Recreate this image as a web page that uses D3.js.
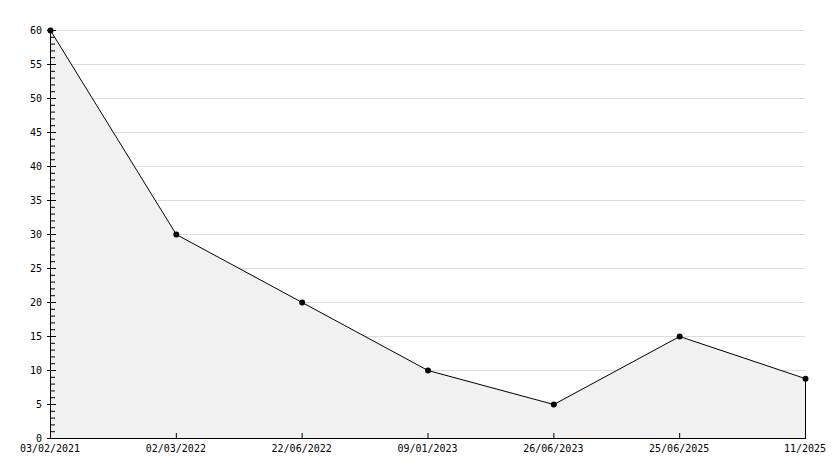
<!DOCTYPE html>
<html>
<head>
<meta charset="utf-8">
<script src="https://cdn.jsdelivr.net/npm/d3@7"></script>
<style>
  body { margin: 0; background: #fff; }
  text { font-family: "DejaVu Sans Mono", monospace; font-size: 10px; fill: #000; }
</style>
</head>
<body>
<div id="chart"></div>
<script>
// chart data
var dates = ["03/02/2021", "02/03/2022", "22/06/2022", "09/01/2023", "26/06/2023", "25/06/2025", "11/2025"];
var values = [60, 30, 20, 10, 5, 15, 8.8];
var yTicks = [0, 5, 10, 15, 20, 25, 30, 35, 40, 45, 50, 55, 60];

var width = 834,
    height = 468;

var svg = d3.select("#chart").append("svg")
    .attr("width", width)
    .attr("height", height);

var x = d3.scalePoint().domain(dates).range([50, 805]);
var y = d3.scaleLinear().domain([0, 60]).range([438, 30]);

// grid lines
svg.append("g")
    .selectAll("line")
    .data(yTicks.filter(function(d) { return d > 0; }))
    .enter().append("line")
    .attr("x1", 50).attr("x2", 805)
    .attr("y1", function(d) { return y(d) + 0.5; })
    .attr("y2", function(d) { return y(d) + 0.5; })
    .attr("stroke", "#dcdcdc");

// area
var pts = dates.map(function(d, i) { return [d, values[i]]; });

svg.append("path")
    .datum(pts)
    .attr("fill", "#f1f1f1")
    .attr("d", d3.area()
        .x(function(d) { return x(d[0]); })
        .y0(y(0))
        .y1(function(d) { return y(d[1]); }));

// right edge of area
svg.append("line")
    .attr("x1", x(dates[dates.length - 1]) + 0.5).attr("x2", x(dates[dates.length - 1]) + 0.5)
    .attr("y1", y(values[values.length - 1])).attr("y2", y(0))
    .attr("stroke", "#000");

svg.append("path")
    .datum(pts)
    .attr("fill", "none")
    .attr("stroke", "#000")
    .attr("stroke-width", 1)
    .attr("d", d3.line()
        .x(function(d) { return x(d[0]) + 0.5; })
        .y(function(d) { return y(d[1]) + 0.5; }));

// y axis
var yAxis = svg.append("g");
yAxis.append("line")
    .attr("x1", 50.5).attr("x2", 50.5)
    .attr("y1", y(60)).attr("y2", y(0) + 1)
    .attr("stroke", "#000");

yAxis.selectAll(".minor")
    .data(d3.range(0, 61))
    .enter().append("line")
    .attr("x1", function(d) { return d % 5 == 0 ? 47 : 50; })
    .attr("x2", function(d) { return d % 5 == 0 ? 56 : 55; })
    .attr("y1", function(d) { return y(d) + 0.5; })
    .attr("y2", function(d) { return y(d) + 0.5; })
    .attr("stroke", "#000");

yAxis.selectAll("text")
    .data(yTicks)
    .enter().append("text")
    .attr("x", 42)
    .attr("y", function(d) { return y(d) + 4; })
    .attr("text-anchor", "end")
    .text(function(d) { return d; });

// x axis
var xAxis = svg.append("g");
xAxis.append("line")
    .attr("x1", 50).attr("x2", 806)
    .attr("y1", y(0) + 0.5).attr("y2", y(0) + 0.5)
    .attr("stroke", "#000");

xAxis.selectAll(".tick")
    .data(dates)
    .enter().append("line")
    .attr("x1", function(d) { return x(d) + 0.5; })
    .attr("x2", function(d) { return x(d) + 0.5; })
    .attr("y1", y(0) - 5).attr("y2", y(0))
    .attr("stroke", "#000");

xAxis.selectAll("text")
    .data(dates)
    .enter().append("text")
    .attr("x", function(d) { return x(d); })
    .attr("y", 452)
    .attr("text-anchor", "middle")
    .text(function(d) { return d; });

// markers
svg.append("g")
    .selectAll("path")
    .data(pts)
    .enter().append("path")
    .attr("transform", function(d) { return "translate(" + (x(d[0]) + 0.5) + "," + (y(d[1]) + 0.5) + ")"; })
    .attr("d", d3.symbol().type(d3.symbolCircle).size(28))
    .attr("fill", "#000");
</script>
</body>
</html>
